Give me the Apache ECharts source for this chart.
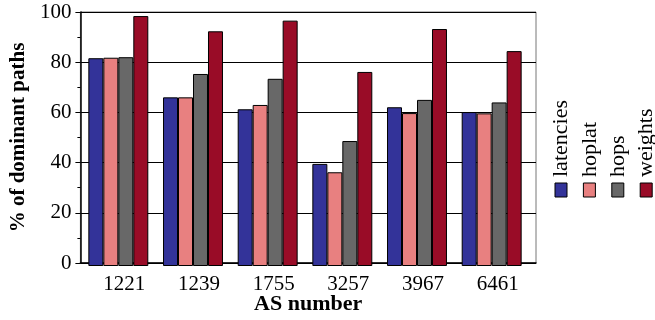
<!DOCTYPE html>
<html>
<head>
<meta charset="utf-8">
<script src="https://cdn.jsdelivr.net/npm/echarts@6/dist/echarts.min.js"></script>
<style>html,body{margin:0;padding:0;background:#fff}#c{width:655px;height:320px}</style>
</head>
<body>
<div id="c"></div>
<script>
var categories = ['1221', '1239', '1755', '3257', '3967', '6461'];
var seriesNames = ['latencies', 'hoplat', 'hops', 'weights'];
var latencies = [81.8, 66.4, 61.7, 40.2, 62.5, 60.6];
var hoplat = [82.0, 66.4, 63.4, 36.9, 60.2, 60.1];
var hops = [82.2, 75.6, 73.7, 49.2, 65.4, 64.4];
var weights = [98.4, 92.4, 96.6, 76.4, 93.3, 84.6];
var yTicks = [0, 20, 40, 60, 80, 100];

var colors = ['#333399', '#e88080', '#686868', '#990c27'];
var seriesData = [latencies, hoplat, hops, weights];
var FONT = '"Liberation Serif", "DejaVu Serif", serif';

var chart = echarts.init(document.getElementById('c'), null, {renderer: 'canvas'});

var series = seriesNames.map(function (n, i) {
  return {
    name: n, type: 'bar', xAxisIndex: 1, yAxisIndex: 1,
    data: seriesData[i], barGap: '0%', barCategoryGap: '19.7%',
    itemStyle: {color: colors[i], borderColor: '#000', borderWidth: 1},
    silent: true, animation: false
  };
});

var legendGraphics = [];
seriesNames.forEach(function (n, i) {
  var x = 555 + i * 28.4;
  legendGraphics.push({
    type: 'rect', shape: {x: x, y: 183, width: 12, height: 14},
    style: {fill: colors[i], stroke: '#000', lineWidth: 1}
  });
  legendGraphics.push({
    type: 'text', x: x + 6.5, y: 177, rotation: Math.PI / 2,
    style: {text: n, font: '22px ' + FONT, fill: '#000', textAlign: 'left', textVerticalAlign: 'middle'}
  });
});

chart.setOption({
  animation: false,
  grid: [
    {left: 69, right: 119, top: 12, bottom: 54, show: true, borderColor: '#777', borderWidth: 1, backgroundColor: 'transparent'},
    {left: 81, right: 126, top: 12, bottom: 54}
  ],
  xAxis: [
    {gridIndex: 0, type: 'category', data: categories, axisLine: {lineStyle: {color: '#000', width: 1.5}},
     axisTick: {show: false}, axisLabel: {show: false},
     name: 'AS number', nameLocation: 'middle', nameGap: 30,
     nameTextStyle: {fontFamily: FONT, fontWeight: 'bold', fontSize: 22, color: '#000'}},
    {gridIndex: 1, type: 'category', data: categories, axisLine: {show: false}, axisTick: {show: false},
     axisLabel: {fontFamily: FONT, fontSize: 21, color: '#000', margin: 8, padding: [0, 0, 0, 12]}}
  ],
  yAxis: [
    {gridIndex: 0, type: 'value', min: 0, max: 100, interval: 20,
     axisLine: {show: true, lineStyle: {color: '#000', width: 1.5}},
     axisTick: {show: true, length: 5, lineStyle: {color: '#000'}},
     minorTick: {show: true, splitNumber: 2, length: 3, lineStyle: {color: '#000'}},
     splitLine: {show: true, lineStyle: {color: '#000', width: 1}},
     axisLabel: {fontFamily: FONT, fontSize: 21, color: '#000', margin: 9,
       formatter: function (v) { return yTicks.indexOf(v) >= 0 ? String(v) : ''; }},
     name: '% of dominant paths', nameLocation: 'middle', nameRotate: 90, nameGap: 44,
     nameTextStyle: {fontFamily: FONT, fontWeight: 'bold', fontSize: 21, color: '#000'}},
    {gridIndex: 1, type: 'value', min: 0, max: 100, show: false, splitLine: {show: false}}
  ],
  series: series,
  graphic: legendGraphics
});
</script>
</body>
</html>
